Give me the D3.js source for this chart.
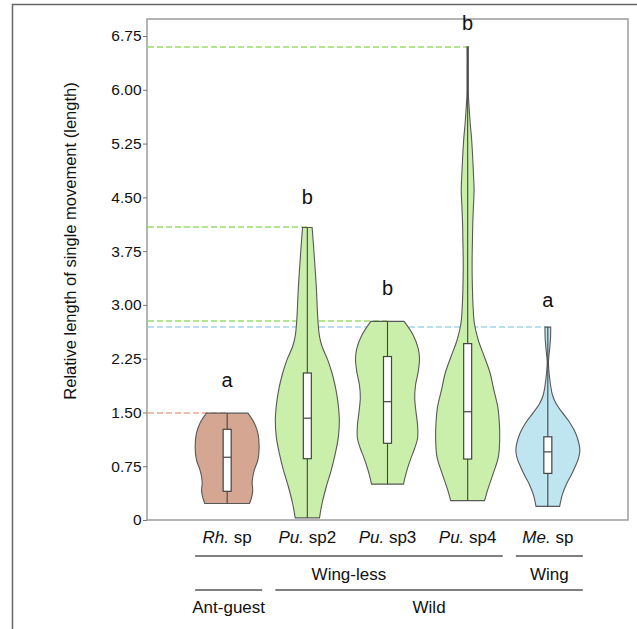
<!DOCTYPE html>
<html>
<head>
<meta charset="utf-8">
<script src="https://cdn.jsdelivr.net/npm/d3@7"></script>
<style>
  body { margin: 0; background: #fff; }
  svg { display: block; }
  text { font-family: "Liberation Sans", Arial, Helvetica, sans-serif; fill: #111; }
</style>
</head>
<body>
<svg id="chart" width="637" height="629"></svg>
<script>
// ---- data ----
const genus   = ["Rh.", "Pu.", "Pu.", "Pu.", "Me."];
const epithet = ["sp", "sp2", "sp3", "sp4", "sp"];
const letters = ["a", "b", "b", "b", "a"];

const maxima  = [1.49, 4.08, 2.77, 6.60, 2.69];
const minima  = [0.23, 0.03, 0.50, 0.27, 0.19];
const q1      = [0.40, 0.855, 1.07, 0.85, 0.65];
const medians = [0.875, 1.42, 1.65, 1.51, 0.95];
const q3      = [1.265, 2.05, 2.28, 2.46, 1.16];

// density profiles: [value, relative half-width]
const rhDensity = [[1.49,0.65],[1.35,0.85],[1.21,0.96],[1.02,1.0],[0.84,0.96],[0.70,0.85],
  [0.60,0.80],[0.51,0.78],[0.42,0.80],[0.325,0.77],[0.23,0.70]];
const pu2Density = [[4.08,0.15],[3.72,0.21],[3.25,0.28],[2.79,0.33],[2.56,0.38],[2.42,0.46],
  [2.23,0.64],[2.05,0.77],[1.86,0.875],[1.63,0.96],[1.39,1.0],[1.16,0.97],[0.93,0.875],
  [0.70,0.75],[0.46,0.59],[0.23,0.46],[0.03,0.38]];
const pu3Density = [[2.77,0.52],[2.58,0.80],[2.39,0.96],[2.25,1.0],[2.07,0.96],[1.88,0.875],
  [1.70,0.85],[1.51,0.89],[1.32,0.94],[1.14,0.94],[1.00,0.85],[0.86,0.73],[0.72,0.625],
  [0.58,0.54],[0.50,0.50]];
const pu4Density = [[6.60,0.02],[6.20,0.02],[5.90,0.025],[5.76,0.045],[5.53,0.08],[5.30,0.125],
  [4.84,0.18],[4.60,0.20],[4.37,0.18],[4.14,0.16],[3.91,0.15],[3.67,0.14],[3.44,0.14],
  [3.21,0.15],[2.97,0.17],[2.74,0.21],[2.51,0.33],[2.28,0.52],[2.05,0.70],[1.81,0.82],
  [1.58,0.94],[1.35,0.99],[1.12,1.0],[0.88,0.96],[0.65,0.80],[0.42,0.625],[0.27,0.53]];
const meDensity = [[2.69,0.09],[2.55,0.085],[2.40,0.06],[2.20,0.02],[2.05,0.04],[1.90,0.08],
  [1.75,0.14],[1.62,0.26],[1.50,0.45],[1.35,0.70],[1.20,0.88],[1.05,0.98],[0.96,1.0],
  [0.85,0.95],[0.74,0.85],[0.60,0.70],[0.50,0.58],[0.35,0.45],[0.19,0.37]];
const densities = [rhDensity, pu2Density, pu3Density, pu4Density, meDensity];

const yTicks = [0, 0.75, 1.5, 2.25, 3, 3.75, 4.5, 5.25, 6, 6.75];

const habitGroups  = [{ label: "Wing-less", from: 0, to: 3 }, { label: "Wing", from: 4, to: 4 }];
const originGroups = [{ label: "Ant-guest", from: 0, to: 0 }, { label: "Wild", from: 1, to: 4 }];

// ---- styling ----
const fills  = ["#d5a792", "#caefaa", "#caefaa", "#caefaa", "#bee5f0"];
const guides = ["#eaa88f", "#99de68", "#99de68", "#99de68", "#a3d5ea"];
const letterLift = [26, 23, 26, 17, 20];

const frame = { left: 147, top: 19, right: 628, bottom: 520 };
const halfMax = 32;
// place thin coloured rules on a two-pixel row pair so their hue survives
const pairRow = v => 2 * Math.floor(v / 2) + 1;

const svg = d3.select("#chart");

// outer border
svg.append("rect").attr("x", 12.5).attr("y", 4.5).attr("width", 700).attr("height", 700)
  .attr("fill", "none").attr("stroke", "#666").attr("stroke-width", 1.5);

const y = d3.scaleLinear().domain([0, 6.75]).range([520, 36]);
const x = d3.scalePoint().domain(d3.range(genus.length)).range([frame.left, frame.right]).padding(1);

// plot frame
svg.append("rect")
  .attr("x", frame.left).attr("y", frame.top)
  .attr("width", frame.right - frame.left).attr("height", frame.bottom - frame.top)
  .attr("fill", "none").attr("stroke", "#9c9c9c").attr("stroke-width", 1.5);

// y axis
const yAxis = svg.append("g").attr("transform", `translate(${frame.left},0)`)
  .call(d3.axisLeft(y).tickValues(yTicks).tickSize(4).tickPadding(1.5)
    .tickFormat(d => d === 0 ? "0" : d3.format(".2f")(d)));
yAxis.select(".domain").remove();
yAxis.selectAll(".tick line").attr("stroke", "#777");
yAxis.selectAll(".tick text").style("font-size", "15.5px").attr("fill", "#111");

svg.append("text")
  .attr("transform", "translate(76,241) rotate(-90)")
  .attr("text-anchor", "middle")
  .style("font-size", "16.5px")
  .text("Relative length of single movement (length)");

// dashed guides to each maximum
svg.append("g").selectAll("line").data(maxima).join("line")
  .attr("x1", frame.left + 1).attr("x2", (d, i) => x(i))
  .attr("y1", d => pairRow(y(d))).attr("y2", d => pairRow(y(d)))
  .attr("stroke", (d, i) => guides[i]).attr("stroke-width", 1.7)
  .attr("stroke-dasharray", "6,3");

// violins
const violins = svg.append("g").selectAll("g").data(densities).join("g");
violins.append("path")
  .attr("d", (prof, i) => d3.area()
    .curve(d3.curveCatmullRom.alpha(0.5))
    .y(d => y(d[0]))
    .x0(d => x(i) - d[1] * halfMax)
    .x1(d => x(i) + d[1] * halfMax)(prof))
  .attr("fill", (d, i) => fills[i])
  .attr("stroke", "#585858").attr("stroke-width", 1.1);

violins.append("line")
  .attr("x1", (d, i) => x(i)).attr("x2", (d, i) => x(i))
  .attr("y1", (d, i) => y(maxima[i])).attr("y2", (d, i) => y(minima[i]))
  .attr("stroke", "#444").attr("stroke-width", 1.1);

violins.append("rect")
  .attr("x", (d, i) => x(i) - 4).attr("width", 8)
  .attr("y", (d, i) => y(q3[i])).attr("height", (d, i) => y(q1[i]) - y(q3[i]))
  .attr("fill", "#fff").attr("stroke", "#444").attr("stroke-width", 1.2);

violins.append("line")
  .attr("x1", (d, i) => x(i) - 4).attr("x2", (d, i) => x(i) + 4)
  .attr("y1", (d, i) => y(medians[i])).attr("y2", (d, i) => y(medians[i]))
  .attr("stroke", "#444").attr("stroke-width", 1.2);

// significance letters
svg.append("g").selectAll("text").data(letters).join("text")
  .attr("x", (d, i) => x(i)).attr("y", (d, i) => y(maxima[i]) - letterLift[i])
  .attr("text-anchor", "middle").style("font-size", "20px").text(d => d);

// category labels
const cat = svg.append("g").selectAll("text").data(genus).join("text")
  .attr("x", (d, i) => x(i)).attr("y", 543)
  .attr("text-anchor", "middle").style("font-size", "17px");
cat.append("tspan").style("font-style", "italic").text(d => d);
cat.append("tspan").text((d, i) => " " + epithet[i]);

// grouping brackets
function drawGroups(groups, lineY, textY) {
  const g = svg.append("g");
  groups.forEach(grp => {
    const x0 = x(grp.from) - 32, x1 = x(grp.to) + 35;
    g.append("line").attr("x1", x0).attr("x2", x1).attr("y1", lineY).attr("y2", lineY)
      .attr("stroke", "#555").attr("stroke-width", 1.5);
    g.append("text").attr("x", (x0 + x1) / 2).attr("y", textY)
      .attr("text-anchor", "middle").style("font-size", "17px").text(grp.label);
  });
}
drawGroups(habitGroups, 556, 579.5);
drawGroups(originGroups, 590, 613);
</script>
</body>
</html>
